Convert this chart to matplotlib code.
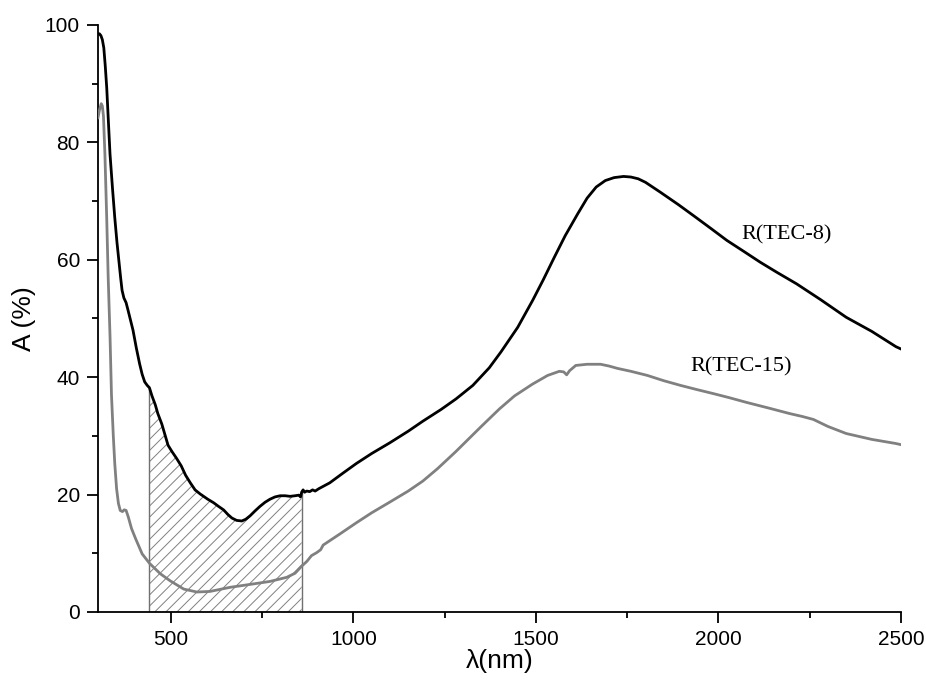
import numpy as np
import matplotlib
matplotlib.use('Agg')
import matplotlib.pyplot as plt

# R(TEC-8): wavelength (nm) and absorption (%)
wl_tec8 = [300, 304, 308, 312, 316, 320, 324, 329, 333, 340, 346, 352, 357, 362, 366, 371,
           377, 382, 386, 396, 405, 414, 421, 428, 435, 441, 448, 457, 464, 475, 492, 503,
           515, 528, 540, 553, 566, 580, 601, 617, 630, 644, 656, 667, 680, 694, 705, 717,
           730, 744, 758, 771, 785, 799, 813, 826, 840, 850, 855, 858, 862, 866, 872, 880,
           888, 895, 905, 935, 970, 1008, 1050, 1099, 1150, 1190, 1240, 1281, 1327, 1372,
           1404, 1450, 1491, 1520, 1550, 1580, 1614, 1640, 1665, 1690, 1714, 1740, 1760,
           1780, 1800, 1841, 1890, 1932, 1980, 2023, 2070, 2114, 2159, 2214, 2280, 2350,
           2420, 2486, 2500]
a_tec8 = [98.5, 98.5, 98.2, 97.5, 96.1, 93.0, 89.3, 83.0, 78.0, 72.0, 67.2, 63.0, 60.0, 57.0,
          54.8, 53.5, 52.7, 51.5, 50.5, 48.0, 45.0, 42.3, 40.5, 39.2, 38.6, 38.2, 36.8, 35.3,
          33.8, 32.0, 28.4, 27.3, 26.2, 24.9, 23.3, 22.0, 20.8, 20.1, 19.2, 18.6, 18.0, 17.4,
          16.6, 16.0, 15.6, 15.5, 15.8, 16.4, 17.2, 18.0, 18.7, 19.2, 19.6, 19.8, 19.8, 19.7,
          19.8, 19.9, 19.6, 20.4, 20.8, 20.4, 20.6, 20.5, 20.8, 20.6, 21.0, 22.0, 23.6, 25.3,
          27.0, 28.8, 30.8, 32.5, 34.5, 36.3, 38.6, 41.6, 44.3, 48.5, 53.1, 56.6, 60.4, 64.1,
          67.8, 70.5, 72.4, 73.5, 74.0, 74.2, 74.1, 73.8, 73.2, 71.5, 69.4, 67.5, 65.3, 63.3,
          61.4, 59.6, 57.9, 55.9, 53.2, 50.2, 47.8, 45.2, 44.8]

# R(TEC-15)
wl_tec15 = [300, 304, 309, 312, 315, 319, 324, 328, 333, 337, 342, 346, 351, 356, 361, 367,
            372, 377, 383, 392, 403, 421, 441, 471, 498, 535, 571, 607, 662, 717, 771, 817,
            840, 858, 872, 885, 899, 910, 917, 963, 1008, 1050, 1099, 1150, 1190, 1230, 1280,
            1350, 1400, 1441, 1490, 1532, 1564, 1576, 1584, 1592, 1609, 1640, 1677, 1700, 1723,
            1760, 1805, 1850, 1896, 1940, 1986, 2030, 2077, 2140, 2195, 2230, 2260, 2300, 2350,
            2420, 2486, 2500]
a_tec15 = [84.2, 85.5, 86.6, 86.2, 84.5, 78.0, 67.0, 57.0, 47.0, 37.0, 30.0, 25.3, 21.0, 18.5,
           17.3, 17.1, 17.4, 17.3, 16.2, 14.2, 12.5, 9.9, 8.3, 6.5, 5.3, 3.9, 3.4, 3.5, 4.2, 4.7,
           5.2, 5.9, 6.6, 7.8, 8.6, 9.6, 10.1, 10.6, 11.4, 13.3, 15.2, 16.9, 18.7, 20.6, 22.3,
           24.4, 27.3, 31.6, 34.6, 36.8, 38.8, 40.3, 41.0, 40.9, 40.4, 41.1, 42.0, 42.2, 42.2,
           41.9, 41.5, 41.0, 40.3, 39.4, 38.6, 37.9, 37.2, 36.5, 35.7, 34.7, 33.8, 33.3, 32.8,
           31.6, 30.4, 29.4, 28.7, 28.5]

band = (441, 858)  # hatched visible range

plt.rcParams['font.family'] = ['Liberation Sans', 'DejaVu Sans']
plt.rcParams['hatch.linewidth'] = 0.7

fig = plt.figure(figsize=(9.26, 6.83), dpi=100)
ax = fig.add_axes([0.1058, 0.104, 0.8672, 0.8594])

x8 = np.asarray(wl_tec8, float); y8 = np.asarray(a_tec8, float)
x15 = np.asarray(wl_tec15, float); y15 = np.asarray(a_tec15, float)

# hatched area under R(TEC-8) within the band
m = (x8 >= band[0]) & (x8 <= band[1])
ax.fill_between(x8[m], 0, y8[m], facecolor='none', edgecolor='#808080',
                hatch='///', linewidth=0, zorder=1)
ax.vlines([x8[m][0], x8[m][-1]], 0, [y8[m][0], y8[m][-1]], color='#707070', lw=1.0, zorder=1)

ax.plot(x15, y15, color='#808080', lw=2.0, solid_joinstyle='round', zorder=3)
ax.plot(x8, y8, color='black', lw=2.0, solid_joinstyle='round', zorder=4)

ax.text(2062, 64.2, 'R(TEC-8)', family='Liberation Serif', fontsize=16, va='center', ha='left')
ax.text(1922, 41.8, 'R(TEC-15)', family='Liberation Serif', fontsize=16, va='center', ha='left')

ax.set_xlim(300, 2500)
ax.set_ylim(0, 100)
ax.set_xticks([500, 1000, 1500, 2000, 2500])
ax.set_xticks([750, 1250, 1750, 2250], minor=True)
ax.set_yticks([0, 20, 40, 60, 80, 100])
ax.set_yticks([10, 30, 50, 70, 90], minor=True)
for s in ('top', 'right'):
    ax.spines[s].set_visible(False)
for s in ('left', 'bottom'):
    ax.spines[s].set_linewidth(1.3)
ax.tick_params(which='major', direction='out', length=8, width=1.3, labelsize=15, pad=5)
ax.tick_params(which='minor', direction='out', length=4.5, width=1.3)

ax.set_xlabel('λ(nm)', fontsize=19, labelpad=0)
ax.set_ylabel('A (%)', fontsize=19, labelpad=6)

fig.savefig('out.png', dpi=100)
